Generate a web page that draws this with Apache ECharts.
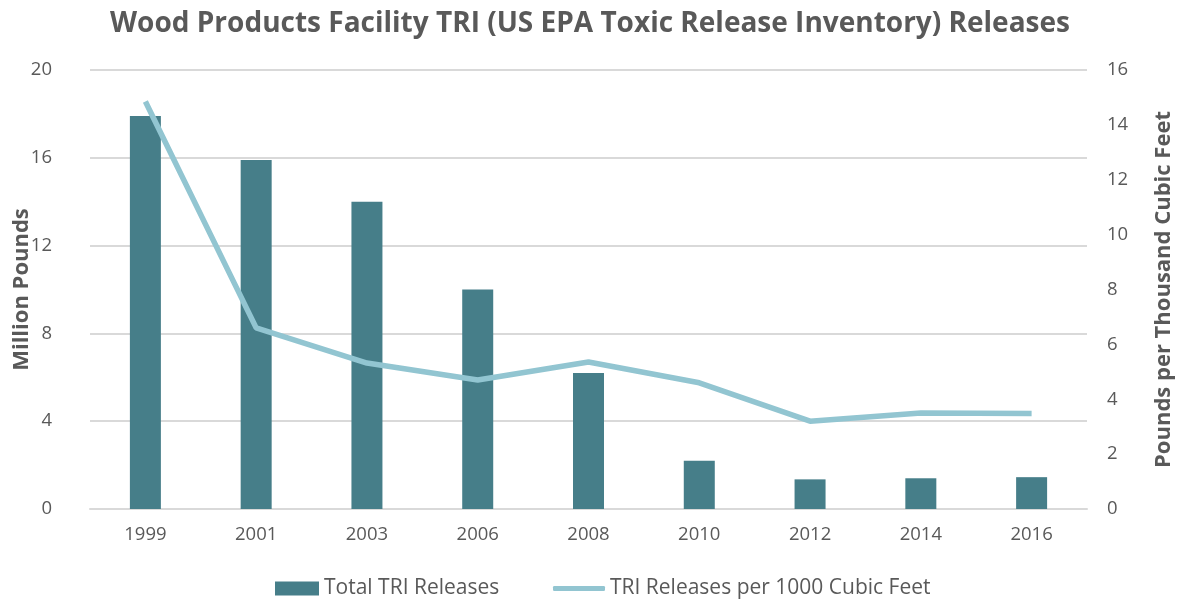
<!DOCTYPE html>
<html>
<head>
<meta charset="utf-8">
<script src="https://cdn.jsdelivr.net/npm/echarts@6/dist/echarts.min.js"></script>
<style>
  html, body { margin: 0; padding: 0; background: #fff; }
  #main { width: 1180px; height: 608px; }
</style>
</head>
<body>
<div id="main"></div>
<script>
var years = ['1999', '2001', '2003', '2006', '2008', '2010', '2012', '2014', '2016'];
var totalReleases = [17.9, 15.9, 14.0, 10.0, 6.2, 2.2, 1.35, 1.4, 1.45];
var perThousandCuFt = [14.85, 6.6, 5.32, 4.7, 5.36, 4.6, 3.2, 3.5, 3.48];

var myChart = echarts.init(document.getElementById('main'));
var textColor = '#595959';
var font = '"Open Sans", "Noto Sans", sans-serif';

var option = {
    animation: false,
    textStyle: { fontFamily: font, color: textColor },
    title: {
        text: 'Wood Products Facility TRI (US EPA Toxic Release Inventory) Releases',
        left: 'center',
        top: 5,
        textStyle: { fontFamily: font, fontSize: 28, fontWeight: 'bold', color: textColor }
    },
    legend: [{
        bottom: 4,
        left: 270,
        itemWidth: 44,
        itemHeight: 14,
        textStyle: { fontSize: 21, color: textColor, fontFamily: font },
        data: [{ name: 'Total TRI Releases', icon: 'rect' }]
    }, {
        bottom: 4,
        left: 548,
        itemWidth: 52,
        itemHeight: 5,
        textStyle: { fontSize: 21, color: textColor, fontFamily: font },
        data: [{ name: 'TRI Releases per 1000 Cubic Feet', icon: 'roundRect' }]
    }],
    grid: { left: 90, right: 93, top: 70, bottom: 99, outerBoundsMode: 'none' },
    xAxis: {
        type: 'category',
        data: years,
        axisLine: { lineStyle: { color: '#d9d9d9', width: 2 } },
        axisTick: { show: false },
        axisLabel: { fontSize: 18.5, color: textColor, margin: 16 }
    },
    yAxis: [{
        type: 'value',
        name: 'Million Pounds',
        nameLocation: 'middle',
        nameGap: 57,
        nameMoveOverlap: false,
        nameTextStyle: { fontSize: 22, fontWeight: 'bold', color: textColor },
        min: 0, max: 20, interval: 4,
        axisLine: { show: false },
        axisTick: { show: false },
        axisLabel: { fontSize: 18.5, color: textColor, margin: 38 },
        splitLine: { lineStyle: { color: '#d9d9d9', width: 2 } }
    }, {
        type: 'value',
        name: 'Pounds per Thousand Cubic Feet',
        nameLocation: 'middle',
        nameGap: 66,
        nameMoveOverlap: false,
        nameTextStyle: { fontSize: 22, fontWeight: 'bold', color: textColor },
        min: 0, max: 16, interval: 2,
        axisLine: { show: false },
        axisTick: { show: false },
        axisLabel: { fontSize: 18.5, color: textColor, margin: 20 },
        splitLine: { show: false }
    }],
    series: [{
        name: 'Total TRI Releases',
        type: 'bar',
        data: totalReleases,
        barWidth: 31,
        itemStyle: { color: '#467e89' }
    }, {
        name: 'TRI Releases per 1000 Cubic Feet',
        type: 'line',
        yAxisIndex: 1,
        data: perThousandCuFt,
        symbol: 'none',
        lineStyle: { color: '#92c5d1', width: 5.5 },
        itemStyle: { color: '#92c5d1' }
    }]
};
myChart.setOption(option);
</script>
</body>
</html>
